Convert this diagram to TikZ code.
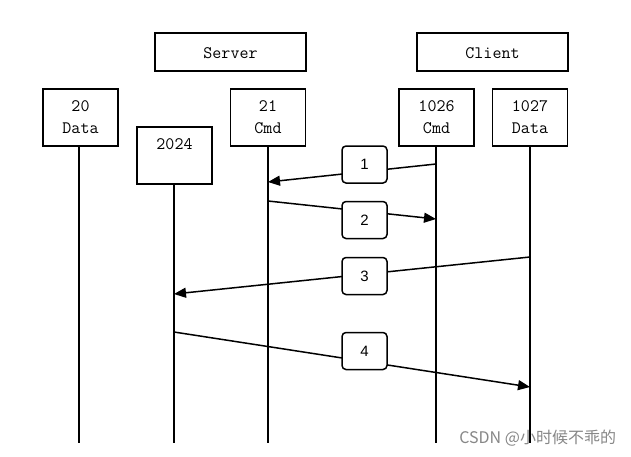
\documentclass[tikz,border=0pt]{standalone}
\usepackage{fontspec}
\newfontfamily\numfont{Liberation Sans}
\newfontfamily\cjk{Noto Sans CJK SC}
\usetikzlibrary{arrows.meta}
\definecolor{wm}{RGB}{135,135,135}
\begin{document}
\begin{tikzpicture}[x=1pt,y=-1pt,
  every node/.style={inner sep=0pt,outer sep=0pt},
  hostbox/.style={draw,line width=1.5pt,minimum width=151pt,minimum height=38pt},
  portbox/.style={draw,line width=1.5pt,minimum width=75pt,minimum height=57pt},
  lbl/.style={font=\fontsize{17.5}{17.5}\selectfont\ttfamily},
  stepbox/.style={draw,line width=1.5pt,fill=white,rounded corners=4pt,minimum width=45pt,minimum height=37pt,font=\fontsize{15}{15}\selectfont\numfont},
  life/.style={line width=1.5pt},
  msg/.style={line width=1.5pt,-{Triangle[length=12pt,width=10pt]}}
]
\path[use as bounding box,fill=white] (0,0) rectangle (631,456);
% host boxes
\node[hostbox] (server) at (230.5,52) {};
\node[lbl] (servert) at (230.5,53) {Server};
\node[hostbox] (client) at (492.5,52) {};
\node[lbl] (clientt) at (492.5,53) {Client};
% port boxes
\node[portbox] (p20) at (80.5,117.5) {};
\node[lbl] (p20a) at (80.5,106) {20};
\node[lbl] (p20b) at (80.5,128) {Data};
\node[portbox] (p2024) at (174.5,155.5) {};
\node[lbl] (p2024a) at (174.5,144) {2024};
\node[portbox] (p21) at (268,117.5) {};
\node[lbl] (p21a) at (268,106) {21};
\node[lbl] (p21b) at (268,128) {Cmd};
\node[portbox] (p1026) at (436.5,117.5) {};
\node[lbl] (p1026a) at (436.5,106) {1026};
\node[lbl] (p1026b) at (436.5,128) {Cmd};
\node[portbox] (p1027) at (530,117.5) {};
\node[lbl] (p1027a) at (530,106) {1027};
\node[lbl] (p1027b) at (530,128) {Data};
% lifelines
\coordinate (e20) at (79,443);
\coordinate (e2024) at (174,443);
\coordinate (e21) at (268,443);
\coordinate (e1026) at (436,443);
\coordinate (e1027) at (530,443);
\draw[life] (p20.south -| e20) -- (e20);
\draw[life] (p2024.south -| e2024) -- (e2024);
\draw[life] (p21.south -| e21) -- (e21);
\draw[life] (p1026.south -| e1026) -- (e1026);
\draw[life] (p1027.south -| e1027) -- (e1027);
% message end points
\coordinate (m1s) at (436,164);
\coordinate (m1e) at (268,182);
\coordinate (m2s) at (268,201);
\coordinate (m2e) at (436,219);
\coordinate (m3s) at (530,257);
\coordinate (m3e) at (174,294);
\coordinate (m4s) at (174,332);
\coordinate (m4e) at (530,387);
\draw[msg] (m1s) -- (m1e);
\draw[msg] (m2s) -- (m2e);
\draw[msg] (m3s) -- (m3e);
\draw[msg] (m4s) -- (m4e);
% step labels
\node[stepbox] (s1) at (364.5,164.5) {1};
\node[stepbox] (s2) at (364.5,220) {2};
\node[stepbox] (s3) at (364.5,276) {3};
\node[stepbox] (s4) at (364.5,351) {4};
% watermark
\node[anchor=east,text=wm,font=\fontsize{16}{16}\selectfont\cjk] (wmk) at (616,438) {CSDN @小时候不乖的};
\end{tikzpicture}
\end{document}
